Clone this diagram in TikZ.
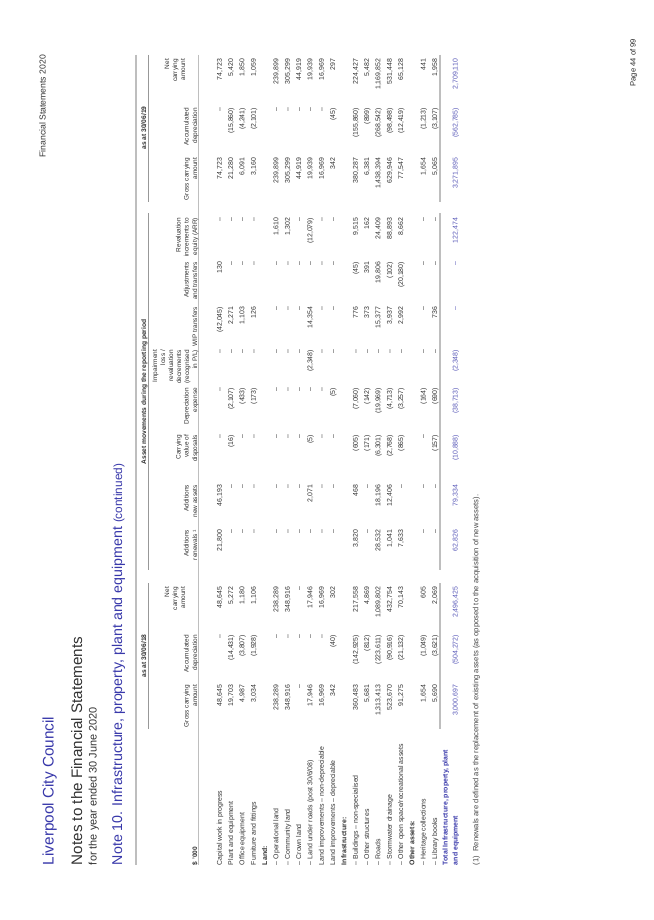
\documentclass[tikz,border=0pt]{standalone}
\usepackage{fontspec}
\setmainfont{Liberation Sans}
\definecolor{lccblue}{RGB}{56,56,170}
\definecolor{lccgray}{RGB}{50,50,50}
\definecolor{lccrule}{RGB}{190,190,190}
\tikzset{
  x=0.75pt,y=-0.75pt,
  rot/.style={rotate=90,inner sep=0pt,outer sep=0pt,text=lccgray},
  numcell/.style={rot,anchor=base east,font=\fontsize{5.2pt}{6pt}\selectfont},
  totcell/.style={numcell,text=lccblue!85!white},
  rowlabel/.style={rot,anchor=base west,font=\fontsize{5.2pt}{6pt}\selectfont},
  headcell/.style={rot,anchor=base east,font=\fontsize{4.85pt}{6pt}\selectfont},
  grouphead/.style={rot,anchor=base,font=\fontsize{5.0pt}{6pt}\bfseries\selectfont},
  thickrule/.style={draw=lccrule,line width=1pt},
  thinrule/.style={draw=lccrule!80!black,line width=0.6pt}
}
\def\colys{{685,635,587,530,485,435,388,350,307,262,218,158,108,59}}
\newcommand{\datarow}[3]{%
  \pgfmathsetmacro{\rowx}{#1}%
  \foreach \v [count=\c from 0] in {#3}{%
    \pgfmathsetmacro{\coly}{\colys[\c]}%
    \node[#2] at (\rowx,\coly) {\v};
  }%
}
\newcommand{\lab}[2]{\pgfmathsetmacro{\rowx}{221.8+11.33*#1}\node[rowlabel] at (\rowx,865) {#2};}
\newcommand{\rowi}[2]{\pgfmathsetmacro{\rowxx}{221.8+11.33*#1}\datarow{\rowxx}{numcell}{#2}}
\newcommand{\hc}[3]{\node[headcell] at (#2,#1) {#3};}
\begin{document}
\begin{tikzpicture}
\path[use as bounding box,fill=white] (0,0) rectangle (653,920);
% titles
\node[rot,anchor=base west,text=lccblue,font=\fontsize{11.5pt}{14pt}\selectfont] (council) at (53.5,865) {Liverpool City Council};
\node[rot,anchor=base west,text=black!80,font=\fontsize{11.4pt}{14pt}\selectfont] (notes) at (82,865) {Notes to the Financial Statements};
\node[rot,anchor=base west,text=black!80,font=\fontsize{8.2pt}{10pt}\selectfont] (year) at (96.7,865) {for the year ended 30 June 2020};
\node[rot,anchor=base west,text=lccblue,font=\fontsize{10.65pt}{14pt}\selectfont] (note) at (122,865) {Note 10. Infrastructure, property, plant and equipment {\fontsize{8.85pt}{14pt}\selectfont(continued)}};
\node[rot,anchor=base east,text=black!80,font=\fontsize{6.5pt}{8pt}\selectfont] (fs) at (45.7,55) {Financial Statements 2020};
\node[rot,anchor=base east,text=black!85,font=\fontsize{5.7pt}{8pt}\selectfont] (page) at (635.7,39) {Page 44 of 99};
% rules
\draw[thickrule] (136,55) -- (136,865);
\draw[thinrule] (148,55) -- (148,201.5) (148,213) -- (148,570) (148,583) -- (148,729);
\draw[thickrule] (198.5,55) -- (198.5,865);
\draw[thickrule] (440,55) -- (440,201.5) (440,213) -- (440,570) (440,583) -- (440,729);
% group heads
\node[grouphead] (h19) at (146,128) {as at 30/06/19};
\node[grouphead] (hmv) at (146,392) {Asset movements during the reporting period};
\node[grouphead] (h18) at (146,656) {as at 30/06/18};
% column heads
\node[rot,anchor=base west,font=\fontsize{4.9pt}{6pt}\bfseries\selectfont] (unit) at (197,865) {\$ '000};
\hc{685}{188.5}{Gross carrying}\hc{685}{197}{amount}
\hc{635}{188.5}{Accumulated}\hc{635}{197}{depreciation}
\hc{587}{169}{Net}\hc{587}{177}{carrying}\hc{587}{185}{amount}
\hc{530}{188.5}{Additions}\hc{530}{197}{renewals \raisebox{0.35ex}{\fontsize{3.2pt}{4pt}\selectfont 1}}
\hc{485}{188.5}{Additions}\hc{485}{197}{new assets}
\hc{435}{180.5}{Carrying}\hc{435}{188.5}{value of}\hc{435}{197}{disposals}
\hc{388}{188.5}{Depreciation}\hc{388}{197}{expense}
\hc{350}{157}{Impairment}\hc{350}{165}{loss /}\hc{350}{173}{revaluation}\hc{350}{181}{decrements}\hc{350}{189}{(recognised}\hc{350}{197}{in P/L)}
\hc{307}{197}{WIP transfers}
\hc{262}{188.5}{Adjustments}\hc{262}{197}{and transfers}
\hc{218}{180.5}{Revaluation}\hc{218}{188.5}{increments to}\hc{218}{197}{equity (ARR)}
\hc{158}{188.5}{Gross carrying}\hc{158}{197}{amount}
\hc{108}{188.5}{Accumulated}\hc{108}{197}{depreciation}
\hc{59}{169}{Net}\hc{59}{177}{carrying}\hc{59}{185}{amount}
% labels
\lab{0}{Capital work in progress}
\lab{1}{Plant and equipment}
\lab{2}{Office equipment}
\lab{3}{Furniture and fittings}
\lab{4}{\textbf{Land:}}
\lab{5}{– Operational land}
\lab{6}{– Community land}
\lab{7}{– Crown land}
\lab{8}{– Land under roads (post 30/6/08)}
\lab{9}{Land improvements – non-depreciable}
\lab{10}{Land improvements – depreciable}
\lab{11}{\textbf{Infrastructure:}}
\lab{12}{– Buildings – non-specialised}
\lab{13}{– Other structures}
\lab{14}{– Roads}
\lab{15}{– Stormwater drainage}
\lab{16}{– Other open space/recreational assets}
\lab{17}{\textbf{Other assets:}}
\lab{18}{– Heritage collections}
\lab{19}{– Library books}
\node[rowlabel,text=lccblue,font=\fontsize{5.2pt}{6pt}\bfseries\selectfont] (tot1) at (447.5,865) {Total Infrastructure, property, plant};
\node[rowlabel,text=lccblue,font=\fontsize{5.2pt}{6pt}\bfseries\selectfont] (tot2) at (457.5,865) {and equipment};
% data
\rowi{0}{{48,645},–,{48,645},{21,800},{46,193},–,–,–,{(42,045)},130,–,{74,723},–,{74,723}}
\rowi{1}{{19,703},{(14,431)},{5,272},–,–,(16),{(2,107)},–,{2,271},–,–,{21,280},{(15,860)},{5,420}}
\rowi{2}{{4,987},{(3,807)},{1,180},–,–,–,(433),–,{1,103},–,–,{6,091},{(4,241)},{1,850}}
\rowi{3}{{3,034},{(1,928)},{1,106},–,–,–,(173),–,126,–,–,{3,160},{(2,101)},{1,059}}
\rowi{5}{{238,289},–,{238,289},–,–,–,–,–,–,–,{1,610},{239,899},–,{239,899}}
\rowi{6}{{348,916},–,{348,916},–,–,–,–,–,–,–,{1,302},{305,299},–,{305,299}}
\rowi{7}{–,–,–,–,–,–,–,–,–,–,–,{44,919},–,{44,919}}
\rowi{8}{{17,946},–,{17,946},–,{2,071},(5),–,{(2,348)},{14,354},–,{(12,079)},{19,939},–,{19,939}}
\rowi{9}{{16,969},–,{16,969},–,–,–,–,–,–,–,–,{16,969},–,{16,969}}
\rowi{10}{342,(40),302,–,–,–,(5),–,–,–,–,342,(45),297}
\rowi{12}{{360,483},{(142,925)},{217,558},{3,820},468,(605),{(7,060)},–,776,(45),{9,515},{380,287},{(155,860)},{224,427}}
\rowi{13}{{5,681},(812),{4,869},–,–,(171),(142),–,373,391,162,{6,381},(899),{5,482}}
\rowi{14}{{1,313,413},{(223,611)},{1,089,802},{28,532},{18,196},{(6,301)},{(19,969)},–,{15,377},{19,806},{24,409},{1,438,394},{(268,542)},{1,169,852}}
\rowi{15}{{523,670},{(90,916)},{432,754},{1,041},{12,406},{(2,768)},{(4,713)},–,{3,937},(102),{88,893},{629,946},{(98,498)},{531,448}}
\rowi{16}{{91,275},{(21,132)},{70,143},{7,633},–,(865),{(3,257)},–,{2,992},{(20,180)},{8,662},{77,547},{(12,419)},{65,128}}
\rowi{18}{{1,654},{(1,049)},605,–,–,–,(164),–,–,–,–,{1,654},{(1,213)},441}
\rowi{19}{{5,690},{(3,621)},{2,069},–,–,(157),(690),–,736,–,–,{5,065},{(3,107)},{1,958}}
\datarow{457.5}{totcell}{{3,000,697},{(504,272)},{2,496,425},{62,826},{79,334},{(10,888)},{(38,713)},{(2,348)},–,–,{122,474},{3,271,895},{(562,785)},{2,709,110}}
% footnote
\node[rowlabel,text=lccgray!90,font=\fontsize{5.7pt}{7pt}\selectfont] (fn0) at (478.3,865) {(1)};
\node[rowlabel,text=lccgray!90,font=\fontsize{5.7pt}{7pt}\selectfont] (fn) at (478.3,851.7) {Renewals are defined as the replacement of existing assets (as opposed to the acquisition of new assets).};
\end{tikzpicture}
\end{document}
